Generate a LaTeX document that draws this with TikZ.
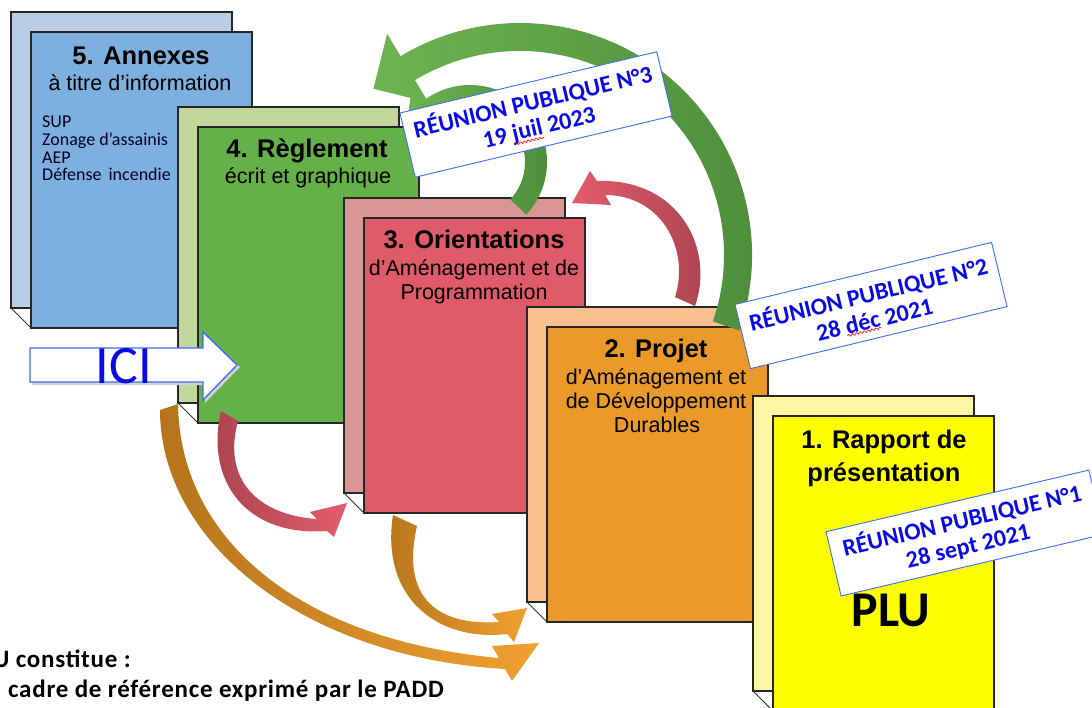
\documentclass[tikz,border=0pt]{standalone}
\usepackage{fontspec}
\setmainfont{Liberation Sans}
\newfontfamily\calib{Carlito}
\newfontfamily\calibwide[LetterSpace=3]{Carlito}
\usetikzlibrary{calc,decorations.pathmorphing}
\definecolor{annexB}{HTML}{B9CDE5}
\definecolor{annexF}{HTML}{7DB0DF}
\definecolor{reglB}{HTML}{C4D79B}
\definecolor{reglF}{HTML}{66B04A}
\definecolor{orientB}{HTML}{DA9694}
\definecolor{orientF}{HTML}{E05B69}
\definecolor{projB}{HTML}{FAC08F}
\definecolor{projF}{HTML}{EA9A2A}
\definecolor{rappB}{HTML}{FFF6A3}
\definecolor{rappF}{HTML}{FFFF00}
\definecolor{greenL}{HTML}{6DB451}
\definecolor{greenD}{HTML}{4C8C3A}
\definecolor{redB}{HTML}{E25D6C}
\definecolor{redD}{HTML}{A9434F}
\definecolor{orB}{HTML}{F0A030}
\definecolor{orD}{HTML}{B5741C}
\definecolor{meetblue}{HTML}{0A0AE6}
\definecolor{meetborder}{HTML}{3D6CF0}
\tikzset{
  pagebox/.style={draw=black!85, line width=1.1pt, minimum width=221, inner sep=0, outer sep=0, anchor=north west},
  foldline/.style={draw=black!80, line width=0.8pt},
  ttl/.style={anchor=base, inner sep=0, font=\bfseries\fontsize{25.5}{30}\selectfont},
  subt/.style={anchor=base, inner sep=0, font=\fontsize{21.5}{25}\selectfont},
  annexitem/.style={anchor=base west, inner sep=0, text=black!85!blue, font=\calib\fontsize{18}{20}\selectfont},
  plutxt/.style={anchor=base, inner sep=0, font=\calib\bfseries\fontsize{50}{56}\selectfont},
  meeting/.style={draw=meetborder, line width=0.9pt, fill=white, minimum width=264, minimum height=66, inner sep=0, align=center, text=meetblue, font=\calib\bfseries\fontsize{24}{26}\selectfont},
  spellwave/.style={draw=red, line width=0.6pt, decorate, decoration={snake, amplitude=1.1pt, segment length=4pt}},
  icitxt/.style={anchor=base, inner sep=0, text=meetblue, font=\calib\fontsize{54}{60}\selectfont},
  bottomtxt/.style={anchor=base west, inner sep=0, font=\calibwide\bfseries\fontsize{25}{30}\selectfont},
}
\newcommand\plupage[6]{%
  \node[pagebox, fill=#5, minimum height=#4] (#1b) at (#2,#3) {};
  \node[pagebox, fill=#6, minimum height=#4] (#1f) at (#2+20,#3+20) {};
  \draw[foldline] (#1b.south west) -- (#1f.south west);
}
\begin{document}
\begin{tikzpicture}[x=1pt,y=-1pt]
\useasboundingbox (0,0) rectangle (1092,707);
% pages
\plupage{annex}{11}{12}{296}{annexB}{annexF}
\node[ttl] (t5) at (141,64) {5. Annexes};
\node[subt] (s5) at (140,90) {à titre d’information};
\node[annexitem] (a1) at (42,127) {SUP};
\node[annexitem] (a2) at (42,145) {Zonage d’assainis};
\node[annexitem] (a3) at (42,163) {AEP};
\node[annexitem] (a4) at (42,180) {Défense\, incendie};
\plupage{regl}{178}{107}{296}{reglB}{reglF}
\node[ttl] (t4) at (307,157) {4. Règlement};
\node[subt] (s4) at (308,183) {écrit et graphique};
\plupage{orient}{344}{198}{295}{orientB}{orientF}
\node[ttl] (t3) at (474,248) {3. Orientations};
\node[subt] (s3a) at (474,275) {d’Aménagement et de};
\node[subt] (s3b) at (474,299) {Programmation};
\plupage{proj}{527}{307}{295}{projB}{projF}
\node[ttl] (t2) at (656,357) {2. Projet};
\node[subt] (s2a) at (656,384) {d’Aménagement et};
\node[subt] (s2b) at (656,408) {de Développement};
\node[subt] (s2c) at (657,432) {Durables};
\plupage{rapp}{753}{396}{295}{rappB}{rappF}
\node[ttl] (t1a) at (884,448) {1. Rapport de};
\node[ttl] (t1b) at (884,481) {présentation};
\node[plutxt] (plu) at (891,626) {PLU};
% big green arrow
\coordinate (gc) at (520,255);
\shade[left color=greenL, right color=greenD]
  ($(gc)+(19:232)$) arc[start angle=19,end angle=-121,radius=232]
  -- ($(gc)+(-121:258)$) -- ($(gc)+(-121:218)+(-211:40)$) -- ($(gc)+(-121:178)$)
  -- ($(gc)+(-121:204)$) arc[start angle=-121,end angle=19,radius=204] -- cycle;
% small green arrow
\coordinate (sc) at (470,162);
\shade[left color=greenL, right color=greenD]
  ($(sc)+(43:77)$) arc[start angle=43,end angle=-128,radius=77]
  -- ($(sc)+(-128:94)$) -- ($(sc)+(-128:66)+(-218:30)$) -- ($(sc)+(-128:38)$)
  -- ($(sc)+(-128:55)$) arc[start angle=-128,end angle=43,radius=55] -- cycle;
% red arrow top
\shade[left color=redB, right color=redD]
  (695,306) .. controls (715,250) and (680,178) .. (597,181) -- (590,171) -- (572,203)
  -- (611,205) -- (605,195) .. controls (662,195) and (690,250) .. (675,297) -- cycle;
% red arrow bottom
\shade[left color=redD, right color=redB]
  (238,421) .. controls (222,480) and (258,515) .. (317,519) -- (310,512) -- (347,503)
  -- (334,537) -- (327,531) .. controls (245,537) and (205,480) .. (221,411) -- cycle;
% orange small arrow
\shade[left color=orD, right color=orB]
  (417,526) .. controls (400,600) and (440,626) .. (499,622) -- (492,614) -- (527,608)
  -- (514,642) -- (507,634) .. controls (440,642) and (380,600) .. (393,515) -- cycle;
% orange big arrow
\shade[left color=orD, right color=orB]
  (178,404) .. controls (180,540) and (300,640) .. (499,658) -- (492,646) -- (539,643)
  -- (512,681) -- (505,669) .. controls (300,657) and (160,540) .. (160,410) -- cycle;
% meeting labels
\node[meeting, rotate=13.4] (m3) at (536,114.5) {RÉUNION PUBLIQUE N°3\\19 juil 2023};
\begin{scope}[shift={(m3.center)}, rotate=13.4]
  \draw[spellwave] (-27,24) -- (3,24);
\end{scope}
\node[meeting, rotate=13.6] (m2) at (871,305.5) {RÉUNION PUBLIQUE N°2\\28 déc 2021};
\begin{scope}[shift={(m2.center)}, rotate=13.6]
  \draw[spellwave] (-30,24) -- (5,24);
\end{scope}
\node[meeting, rotate=13.2, minimum width=270] (m1) at (965,533) {RÉUNION PUBLIQUE N°1\\28 sept 2021};
% ICI arrow
\fill[black!18] (32,351) -- (205,351) -- (205,335) -- (240,367) -- (205,403) -- (205,385) -- (32,385) -- cycle;
\draw[draw=meetborder, line width=1.3pt, fill=white] (30,348) -- (203,348) -- (203,332) -- (237,365) -- (203,400) -- (203,382) -- (30,382) -- cycle;
\node[icitxt] (ici) at (124,383) {ICI};
% bottom text
\node[bottomtxt] (b1) at (-7,667) {U constitue :};
\node[bottomtxt] (b2) at (8,697) {cadre de référence exprimé par le PADD};
\end{tikzpicture}
\end{document}
